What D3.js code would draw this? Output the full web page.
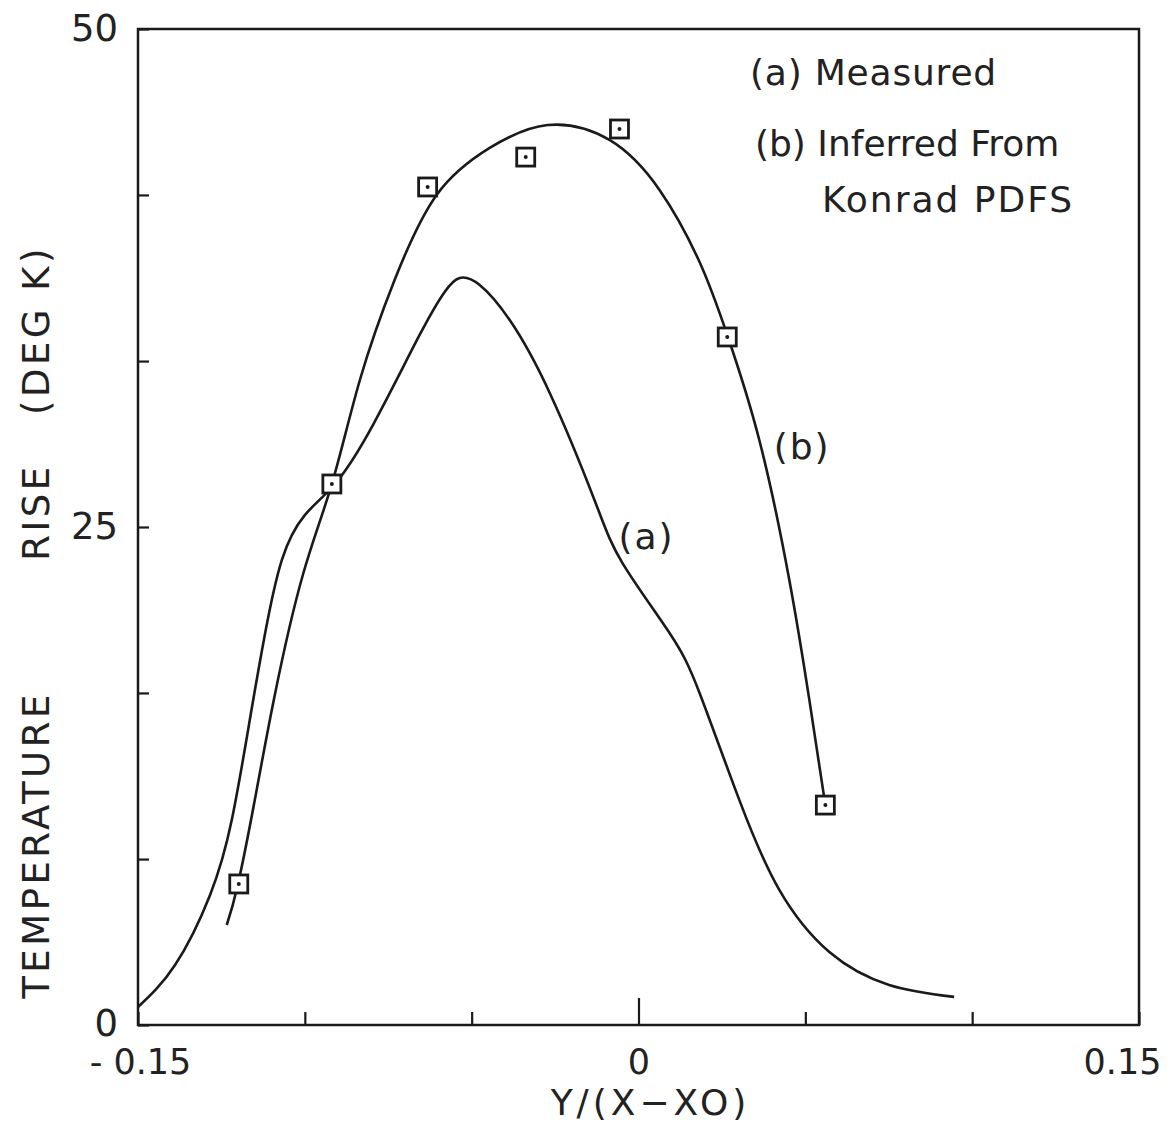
<!DOCTYPE html>
<html>
<head>
<meta charset="utf-8">
<script src="https://cdn.jsdelivr.net/npm/d3@7"></script>
<style>
  html, body { margin: 0; padding: 0; background: #fff; }
  svg text { font-family: "DejaVu Sans", sans-serif; fill: #222; }
</style>
</head>
<body>
<div id="chart"></div>
<script>
// axis ticks
const xTicks = [-0.15, -0.1, -0.05, 0, 0.05, 0.1, 0.15];
const xTickLabels = ["- 0.15", "", "", "0", "", "", "0.15"];
const yTicks = [0, 8.33, 16.67, 25, 33.33, 41.67, 50];
const yTickLabels = ["0", "", "", "25", "", "", "50"];

// curve (a) measured
const measuredX = [-0.1500, -0.1389, -0.1284, -0.1219, -0.1165, -0.1120, -0.1069, -0.1000, -0.0910, -0.0796,
  -0.0656, -0.0581, -0.0536, -0.0476, -0.0386, -0.0266, -0.0132, -0.0048, 0.0093, 0.0183,
  0.0302, 0.0422, 0.0572, 0.0751, 0.0946];
const measuredY = [0.90, 3.01, 6.53, 10.29, 15.31, 19.58, 23.34, 25.60, 27.16, 30.12,
  34.64, 36.80, 37.50, 37.15, 35.39, 31.73, 26.36, 23.19, 19.68, 16.67,
  11.30, 6.78, 3.66, 2.01, 1.41];

// curve (b) inferred from Konrad PDFS
const inferredX = [-0.1234, -0.1201, -0.1150, -0.1090, -0.1006, -0.0919, -0.0835, -0.0731, -0.0605, -0.0446,
  -0.0272, -0.0087, 0.0063, 0.0183, 0.0266, 0.0362, 0.0452, 0.0512, 0.0560];
const inferredY = [5.02, 7.03, 11.29, 16.57, 22.59, 27.16, 32.38, 37.40, 41.67, 44.03,
  45.18, 44.43, 41.92, 38.30, 34.64, 29.37, 22.34, 16.32, 11.04];

// square markers on (b)
const markerX = [-0.1198, -0.0919, -0.0632, -0.0338, -0.0057, 0.0266, 0.0560];
const markerY = [7.08, 27.16, 42.07, 43.57, 44.98, 34.54, 11.04];

const W = 1174, H = 1139;
const margin = { top: 29, right: 35, bottom: 114, left: 138 };
const width = W - margin.left - margin.right,
      height = H - margin.top - margin.bottom;

const svg = d3.select("#chart").append("svg")
  .attr("width", W).attr("height", H);
const g = svg.append("g")
  .attr("transform", `translate(${margin.left},${margin.top})`);

const x = d3.scaleLinear().domain([-0.15, 0.15]).range([0, width]);
const y = d3.scaleLinear().domain([0, 50]).range([height, 0]);

const ink = "#1a1a1a";

// frame
g.append("rect")
  .attr("x", 0).attr("y", 0)
  .attr("width", width).attr("height", height)
  .attr("fill", "none").attr("stroke", ink).attr("stroke-width", 2.5);

// bottom axis: inward ticks, longer one at 0
const xAxis = g.append("g")
  .attr("transform", `translate(0,${height})`)
  .call(d3.axisBottom(x).tickValues(xTicks).tickSizeInner(-13).tickSizeOuter(0)
    .tickFormat((d, i) => xTickLabels[i]));
xAxis.select(".domain").remove();
xAxis.selectAll(".tick line")
  .attr("stroke", ink).attr("stroke-width", 2.2)
  .attr("y2", d => d === 0 ? -27 : -13);
xAxis.selectAll(".tick text")
  .attr("y", 24).attr("dy", "0.71em")
  .attr("text-anchor", d => d === 0.15 ? "end" : "middle")
  .attr("x", d => d === 0.15 ? 22 : (d === -0.15 ? 2 : 0))
  .style("font-size", "35px");

// left axis: inward ticks
const yAxis = g.append("g")
  .call(d3.axisLeft(y).tickValues(yTicks).tickSizeInner(-11).tickSizeOuter(0)
    .tickFormat((d, i) => yTickLabels[i]));
yAxis.select(".domain").remove();
yAxis.selectAll(".tick line").attr("stroke", ink).attr("stroke-width", 2.2);
yAxis.selectAll(".tick text")
  .attr("x", -20)
  .attr("dy", d => d === 0 ? "0.28em" : "0.32em")
  .style("font-size", "37px");

// axis titles
svg.append("text")
  .attr("x", margin.left + x(0) + 12).attr("y", 1115)
  .attr("text-anchor", "middle")
  .style("font-size", "36px")
  .style("letter-spacing", "4px")
  .text("Y/(X−XO)");

const yTitle = svg.append("text")
  .attr("transform", "translate(49,0) rotate(-90)")
  .attr("text-anchor", "middle")
  .style("font-size", "37px")
  .style("letter-spacing", "3.5px");
[["TEMPERATURE", 845], ["RISE", 512], ["(DEG K)", 330]].forEach(([t, c]) => {
  yTitle.append("tspan").attr("x", -c).attr("y", 0).text(t);
});

// curves
const line = d3.line()
  .x(d => x(d[0])).y(d => y(d[1]))
  .curve(d3.curveNatural);

const measured = measuredX.map((v, i) => [v, measuredY[i]]);
const inferred = inferredX.map((v, i) => [v, inferredY[i]]);

g.append("path").datum(measured)
  .attr("d", line)
  .attr("fill", "none").attr("stroke", ink).attr("stroke-width", 2.6);
g.append("path").datum(inferred)
  .attr("d", line)
  .attr("fill", "none").attr("stroke", ink).attr("stroke-width", 2.6);

// square markers with centre dot
const markers = markerX.map((v, i) => [v, markerY[i]]);
const mk = g.selectAll(".marker").data(markers).join("g")
  .attr("class", "marker")
  .attr("transform", d => `translate(${x(d[0])},${y(d[1])})`);
mk.append("rect")
  .attr("x", -9).attr("y", -9).attr("width", 18).attr("height", 18)
  .attr("fill", "#fff").attr("stroke", ink).attr("stroke-width", 2.8);
mk.append("circle").attr("r", 2).attr("fill", ink);

// curve labels
g.append("text")
  .attr("x", x(-0.0060)).attr("y", y(23.9))
  .style("font-size", "36px").style("letter-spacing", "2px")
  .text("(a)");
g.append("text")
  .attr("x", x(0.0405)).attr("y", y(28.4))
  .style("font-size", "36px").style("letter-spacing", "2px")
  .text("(b)");

// legend text
const legend = g.append("g")
  .style("font-size", "36px")
  .style("white-space", "pre");
legend.append("text")
  .attr("x", x(0.0334)).attr("y", y(47.2))
  .style("letter-spacing", "0.8px")
  .text("(a) Measured");
legend.append("text")
  .attr("x", x(0.0349)).attr("y", y(43.6))
  .text("(b) Inferred From");
legend.append("text")
  .attr("x", x(0.0550)).attr("y", y(40.8))
  .style("letter-spacing", "2px")
  .text("Konrad PDFS");
</script>
</body>
</html>
